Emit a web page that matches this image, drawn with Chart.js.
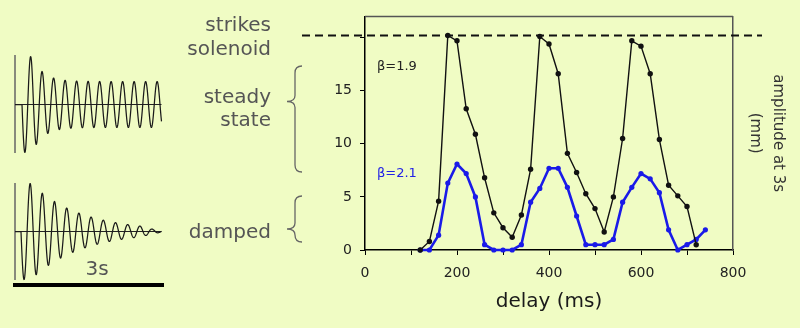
<!DOCTYPE html>
<html>
<head>
<meta charset="utf-8">
<script src="https://cdn.jsdelivr.net/npm/chart.js@4"></script>
<style>
  html, body { margin: 0; padding: 0; background: #f0fcc4; }
  #wrap { width: 800px; height: 328px; }
</style>
</head>
<body>
<div id="wrap"><canvas id="resonance" width="800" height="328"></canvas></div>
<script>
// delay between kicks (ms) and amplitude after 3 s (mm)
const delaysBeta19 = [120, 140, 160, 180, 200, 220, 240, 260, 280, 300, 320, 340, 360, 380, 400, 420,
                      440, 460, 480, 500, 520, 540, 560, 580, 600, 620, 640, 660, 680, 700, 720];
const ampBeta19 = [0, 0.8, 4.6, 20.2, 19.7, 13.3, 10.9, 6.8, 3.5, 2.1, 1.2, 3.3, 7.6, 20.1, 19.4, 16.6,
                   9.1, 7.3, 5.3, 3.9, 1.7, 5.0, 10.5, 19.7, 19.2, 16.6, 10.4, 6.1, 5.1, 4.1, 0.5];
const delaysBeta21 = [120, 140, 160, 180, 200, 220, 240, 260, 280, 300, 320, 340, 360, 380, 400, 420,
                      440, 460, 480, 500, 520, 540, 560, 580, 600, 620, 640, 660, 680, 700, 720, 740];
const ampBeta21 = [0, 0, 1.4, 6.3, 8.1, 7.2, 5.0, 0.5, 0, 0, 0, 0.5, 4.5, 5.8, 7.7, 7.7,
                   5.9, 3.2, 0.5, 0.5, 0.5, 1.0, 4.5, 5.9, 7.2, 6.7, 5.4, 1.9, 0, 0.5, 1.0, 1.9];
const xTickLabels = [0, 200, 400, 600, 800];
const yTickLabels = [0, 5, 10, 15];
const solenoidLevel = 20.2;

const FONT = '"DejaVu Sans", Verdana, sans-serif';
const GREY_TEXT = '#555';

function toPoints(xs, ys) {
    return xs.map((x, i) => ({ x: x, y: ys[i] }));
}

function drawBrace(ctx, xEnd, top, tip, bottom) {
    const xMid = xEnd - 7;
    const xTip = xEnd - 15;
    ctx.beginPath();
    ctx.moveTo(xEnd, top);
    ctx.quadraticCurveTo(xMid, top, xMid, top + 7);
    ctx.lineTo(xMid, tip - 6);
    ctx.quadraticCurveTo(xMid, tip, xTip, tip);
    ctx.quadraticCurveTo(xMid, tip, xMid, tip + 6);
    ctx.lineTo(xMid, bottom - 7);
    ctx.quadraticCurveTo(xMid, bottom, xEnd, bottom);
    ctx.stroke();
}

// little oscilloscope-style sketches of the motion
function drawTrace(ctx, t) {
    ctx.strokeStyle = '#666';
    ctx.lineWidth = 1.5;
    ctx.beginPath();
    ctx.moveTo(t.axisX, t.axisTop);
    ctx.lineTo(t.axisX, t.axisBottom);
    ctx.stroke();

    ctx.strokeStyle = '#222';
    ctx.lineWidth = 1;
    ctx.beginPath();
    ctx.moveTo(t.axisX, t.base);
    ctx.lineTo(t.end, t.base);
    ctx.stroke();

    ctx.strokeStyle = '#1a1a1a';
    ctx.lineWidth = 1.25;
    ctx.lineJoin = 'round';
    ctx.beginPath();
    ctx.moveTo(t.axisX, t.base);
    ctx.lineTo(t.start, t.base);
    for (let x = t.start; x <= t.end; x += 0.25) {
        ctx.lineTo(x, t.base + t.amp(x) * Math.sin(2 * Math.PI * (x - t.start) / t.period));
    }
    ctx.stroke();
}

const overlay = {
    id: 'overlay',
    beforeDatasetsDraw(chart) {
        const { ctx, scales: { y } } = chart;
        const yy = y.getPixelForValue(solenoidLevel);
        ctx.save();
        ctx.strokeStyle = '#111';
        ctx.lineWidth = 2;
        ctx.setLineDash([8, 5]);
        ctx.beginPath();
        ctx.moveTo(302, yy);
        ctx.lineTo(762, yy);
        ctx.stroke();
        ctx.restore();
    },
    afterDraw(chart) {
        const { ctx, chartArea: a } = chart;
        ctx.save();

        // top edge of the plot box
        ctx.strokeStyle = '#555';
        ctx.lineWidth = 1.5;
        ctx.beginPath();
        ctx.moveTo(a.left, a.top);
        ctx.lineTo(a.right, a.top);
        ctx.stroke();

        // series labels
        ctx.font = '13px ' + FONT;
        ctx.textAlign = 'left';
        ctx.textBaseline = 'alphabetic';
        ctx.fillStyle = '#222';
        ctx.fillText('β=1.9', a.left + 12, 70);
        ctx.fillStyle = '#2222e6';
        ctx.fillText('β=2.1', a.left + 12, 177);

        // left-hand annotations
        ctx.font = '20px ' + FONT;
        ctx.fillStyle = GREY_TEXT;
        ctx.textAlign = 'right';
        ctx.fillText('strikes', 271, 31);
        ctx.fillText('solenoid', 271, 55);
        ctx.fillText('steady', 271, 103);
        ctx.fillText('state', 271, 126);
        ctx.fillText('damped', 271, 238);
        ctx.textAlign = 'center';
        ctx.fillText('3s', 97, 275);

        ctx.strokeStyle = '#666';
        ctx.lineWidth = 1.3;
        drawBrace(ctx, 302, 66, 101.5, 172);
        drawBrace(ctx, 302, 196, 229, 242);

        drawTrace(ctx, {
            axisX: 15, axisTop: 55, axisBottom: 153, base: 104.5,
            start: 22, end: 161.5, period: 11.5,
            amp: x => 23 + 25 * Math.exp(-Math.max(0, x - 32) / 11)
        });
        drawTrace(ctx, {
            axisX: 15, axisTop: 183, axisBottom: 280, base: 231.5,
            start: 21, end: 161.5, period: 12.2,
            amp: x => 48 * Math.exp(-Math.max(0, x - 31) / 50) * Math.min(1, (161.5 - x) / 25 + 0.2)
        });

        // 3 s time bar
        ctx.fillStyle = '#000';
        ctx.fillRect(13, 283, 151, 4);

        ctx.restore();
    }
};

const ctx = document.getElementById('resonance').getContext('2d');
new Chart(ctx, {
    type: 'line',
    data: {
        datasets: [{
            label: 'β=1.9',
            data: toPoints(delaysBeta19, ampBeta19),
            borderColor: '#111',
            backgroundColor: '#111',
            borderWidth: 1.4,
            pointRadius: 2.7,
            pointBorderWidth: 0,
            tension: 0,
            clip: false
        }, {
            label: 'β=2.1',
            data: toPoints(delaysBeta21, ampBeta21),
            borderColor: '#1a1ae8',
            backgroundColor: '#1a1ae8',
            borderWidth: 2.6,
            pointRadius: 2.6,
            pointBorderWidth: 0,
            tension: 0,
            clip: false
        }]
    },
    options: {
        responsive: false,
        animation: false,
        layout: { padding: { left: 300, right: 0, top: 14, bottom: 0 } },
        plugins: {
            legend: { display: false },
            tooltip: { enabled: false }
        },
        scales: {
            x: {
                type: 'linear',
                min: 0,
                max: 800,
                afterFit: scale => { scale.height = 78; },
                grid: { drawOnChartArea: false, tickLength: 5, color: '#000' },
                border: { color: '#000', width: 1.5 },
                ticks: {
                    stepSize: 100,
                    padding: 10,
                    maxRotation: 0,
                    autoSkip: false,
                    color: '#222',
                    font: { family: FONT, size: 14 },
                    callback: v => xTickLabels.includes(v) ? String(v) : ''
                },
                title: {
                    display: true,
                    text: 'delay (ms)',
                    color: '#1a1a1a',
                    font: { family: FONT, size: 20 },
                    padding: { top: 0, bottom: 14 }
                }
            },
            y: {
                min: 0,
                max: 22,
                afterFit: scale => { scale.width = 65; },
                grid: { drawOnChartArea: false, tickLength: 5, color: '#000' },
                border: { color: '#000', width: 1.5 },
                ticks: {
                    stepSize: 5,
                    includeBounds: false,
                    padding: 8,
                    color: '#222',
                    font: { family: FONT, size: 14 },
                    callback: v => yTickLabels.includes(v) ? String(v) : ''
                }
            },
            yRight: {
                position: 'right',
                min: 0,
                max: 22,
                afterFit: scale => { scale.width = 67; },
                grid: { display: false },
                border: { color: '#555', width: 1.5 },
                ticks: { display: false },
                title: {
                    display: true,
                    text: ['amplitude at 3s', '(mm)'],
                    color: '#333',
                    font: { family: FONT, size: 15, lineHeight: 1.5 },
                    padding: { top: 11, bottom: 0 }
                }
            }
        }
    },
    plugins: [overlay]
});
</script>
</body>
</html>
